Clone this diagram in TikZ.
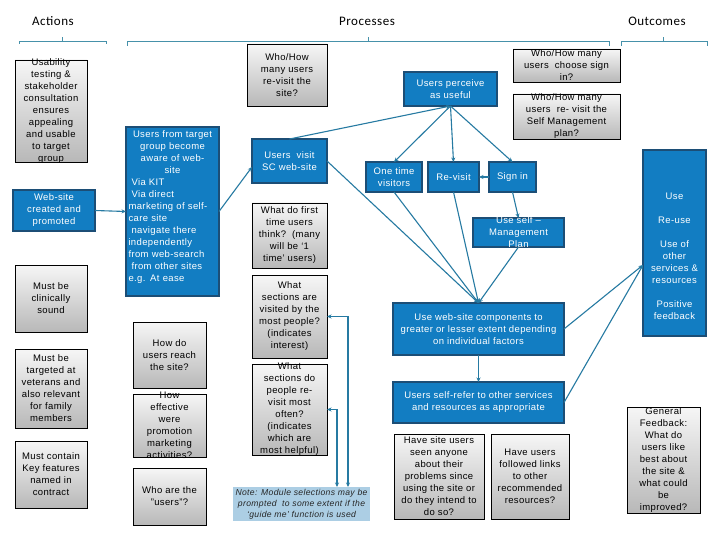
\documentclass[tikz,border=0pt]{standalone}
\usepackage{fontspec}
\setmainfont[LetterSpace=4]{Liberation Sans}
\newfontfamily\titlefont[LetterSpace=4]{Carlito}
\usetikzlibrary{arrows.meta,calc}
\definecolor{bfill}{RGB}{18,125,194}
\definecolor{bborder}{RGB}{28,78,118}
\definecolor{lcol}{RGB}{38,122,162}
\definecolor{brk}{RGB}{70,145,170}
\definecolor{gtop}{RGB}{246,246,246}
\definecolor{gbot}{RGB}{184,184,184}
\definecolor{notefill}{RGB}{172,206,228}
\newcommand\bodysize{\fontsize{9.5}{12}\selectfont}
\newcommand\dgbox[7]{%
 \node[#1, minimum width={(#4-#3)*1pt}, minimum height={(#6-#5)*1pt}] (#2) at ({(#3+#4)/2},{(#5+#6)/2}) {};
 \node[#1txt] (#2t) at (#2) {#7};}
\tikzset{
 gbox/.style={draw=black, line width=0.8pt, top color=gtop, bottom color=gbot, inner sep=0pt, outer sep=0pt},
 bbox/.style={draw=bborder, line width=1.3pt, fill=bfill, inner sep=0pt, outer sep=0pt},
 notebox/.style={fill=notefill, inner sep=0pt, outer sep=0pt},
 gboxtxt/.style={font=\bodysize, align=center, inner sep=0pt, text=black},
 bboxtxt/.style={font=\bodysize, align=center, inner sep=0pt, text=white},
 noteboxtxt/.style={font=\itshape\fontsize{8.6}{11}\selectfont, align=center, inner sep=0pt, text=black!85},
 conn/.style={draw=lcol, line width=1.1pt, -{Stealth[length=4.5pt,width=4pt]}},
 conn2/.style={draw=lcol, line width=1.1pt, {Stealth[length=4.5pt,width=4pt]}-{Stealth[length=4.5pt,width=4pt]}},
 bracket/.style={draw=brk, line width=0.9pt},
 title/.style={font=\titlefont\fontsize{13}{15}\selectfont, inner sep=0pt},
}
\begin{document}
\begin{tikzpicture}[x=1pt,y=-1pt]
\useasboundingbox[fill=white] (0,0) rectangle (720,540);
% titles and brackets
\node[title] (tact) at (53,21) {Actions};
\node[title] (tproc) at (367,21) {Processes};
\node[title] (tout) at (657,21) {Outcomes};
\draw[bracket] (19,44) -- (19,41) -- (106,41) -- (106,44) (62,41) -- (62,37);
\draw[bracket] (127,46) -- (127,41) -- (609,41) -- (609,46) (368,41) -- (368,37);
\draw[bracket] (621,46) -- (621,41) -- (707,41) -- (707,46) (663,41) -- (663,37);
% actions
\dgbox{gbox}{a1}{15}{87}{60}{162}{Usability\\testing \&\\stakeholder\\consultation\\ensures\\appealing\\and usable\\to target\\group}
\dgbox{bbox}{a2}{13}{95}{190}{231}{Web-site\\created and\\promoted}
\dgbox{gbox}{a3}{15}{87}{265}{332}{Must be\\clinically\\sound}
\dgbox{gbox}{a4}{15}{87}{349}{428}{Must be\\targeted at\\veterans and\\also relevant\\for family\\members}
\dgbox{gbox}{a5}{15}{87}{441}{508}{Must contain\\Key features\\named in\\contract}
% processes left
\node[bbox, minimum width=93pt, minimum height=169pt] (p1) at (172.5,211.5) {};
\node[bboxtxt, align=left, text width=88pt, anchor=north] (p1t) at (172.5,130) {\makebox[88pt]{Users from target}\\\makebox[88pt]{group become}\\\makebox[88pt]{aware of web-}\\\makebox[88pt]{site}\\\hspace*{3pt}Via KIT\\\hspace*{3pt}Via direct\\marketing of self-\\care site\\\hspace*{3pt}navigate there\\independently\\from web-search\\\hspace*{3pt}from other sites\\e.g. At ease};
\dgbox{gbox}{p2}{133}{206}{322}{388}{How do\\users reach\\the site?}
\dgbox{gbox}{p3}{133}{206}{394}{457}{How\\effective\\were\\promotion\\marketing\\activities?}
\dgbox{gbox}{p4}{133}{206}{468}{525}{Who are the\\"users"?}
% processes middle
\dgbox{gbox}{m1}{247}{327}{44}{106}{Who/How\\many users\\re-visit the\\site?}
\dgbox{bbox}{m2}{252}{327}{139}{183}{Users\ \ visit\\SC web-site}
\dgbox{gbox}{m3}{252}{327}{203}{268}{What do first\\time users\\think?\ \ (many\\will be ‘1\\time’ users)}
\dgbox{gbox}{m4}{252}{327}{275}{358}{What\\sections are\\visited by the\\most people?\\(indicates\\interest)}
\dgbox{gbox}{m5}{252}{327}{364}{455}{What\\sections do\\people re-\\visit most\\often?\\(indicates\\which are\\most helpful)}
\dgbox{notebox}{nt}{233}{370}{487}{521}{Note: Module selections may be\\prompted\ \ to some extent if the\\‘guide me’ function is used}
% processes right
\dgbox{bbox}{up}{404}{497}{72}{106}{Users perceive\\as useful}
\dgbox{gbox}{q1}{513}{620}{49}{82}{Who/How many\\users\ \ choose sign\\in?}
\dgbox{gbox}{q2}{513}{620}{94}{139}{Who/How many\\users\ \ re- visit the\\Self Management\\plan?}
\dgbox{bbox}{ot}{366}{422}{162}{192}{One time\\visitors}
\dgbox{bbox}{rv}{428}{479}{162}{192}{Re-visit}
\dgbox{bbox}{si}{489}{536}{162}{192}{Sign in}
\dgbox{bbox}{sm}{473}{564}{218}{247}{Use self –\\Management\\Plan}
\dgbox{bbox}{uw}{393}{564}{303}{355}{Use web-site components to\\greater or lesser extent depending\\on individual factors}
\dgbox{bbox}{sr}{393}{564}{382}{423}{Users self-refer to other services\\and resources as appropriate}
\dgbox{gbox}{h1}{394}{484}{434}{519}{Have site users\\seen anyone\\about their\\problems since\\using the site or\\do they intend to\\do so?}
\dgbox{gbox}{h2}{491}{569}{434}{519}{Have users\\followed links\\to other\\recommended\\resources?}
% outcomes
\node[bbox, minimum width=63pt, minimum height=186pt] (oc) at (674.5,243) {};
\node[bboxtxt] (oct) at (674.5,256) {Use\\[12pt]Re-use\\[12pt]Use of\\other\\services \&\\resources\\[12pt]Positive\\feedback};
\dgbox{gbox}{gf}{627}{700}{407}{513}{General\\Feedback:\\What do\\users like\\best about\\the site \&\\what could\\be\\improved?}
% connectors
\draw[conn] (a2.east) -- (p1.west);
\draw[conn] (p1.east) -- ([yshift=-6pt]m2.west);
\draw[conn] (m2.north) -- (up.south);
\draw[conn] (up.south) -- (ot.north);
\draw[conn] (up.south) -- (rv.north);
\draw[conn] (up.south) -- (si.north);
\draw[conn] (si.west) -- (rv.east);
\draw[conn] (m2.east) -- (uw.north);
\draw[conn] (ot.south) -- (uw.north);
\draw[conn] (rv.south) -- (uw.north);
\draw[conn] (si.south) -- (sm.north);
\draw[conn] (sm.south) -- (uw.north);
\draw[conn] (uw.south) -- (sr.north);
\coordinate (ocin) at ([yshift=-22pt]oc.west);
\draw[conn] (uw.east) -- (ocin);
\draw[conn] (sr.east) -- (ocin);
\draw[conn2] (m4.east) -| ($(nt.north west)+(115,0)$);
\draw[conn2] (m5.east) -| ($(nt.north west)+(104,0)$);
\end{tikzpicture}
\end{document}
